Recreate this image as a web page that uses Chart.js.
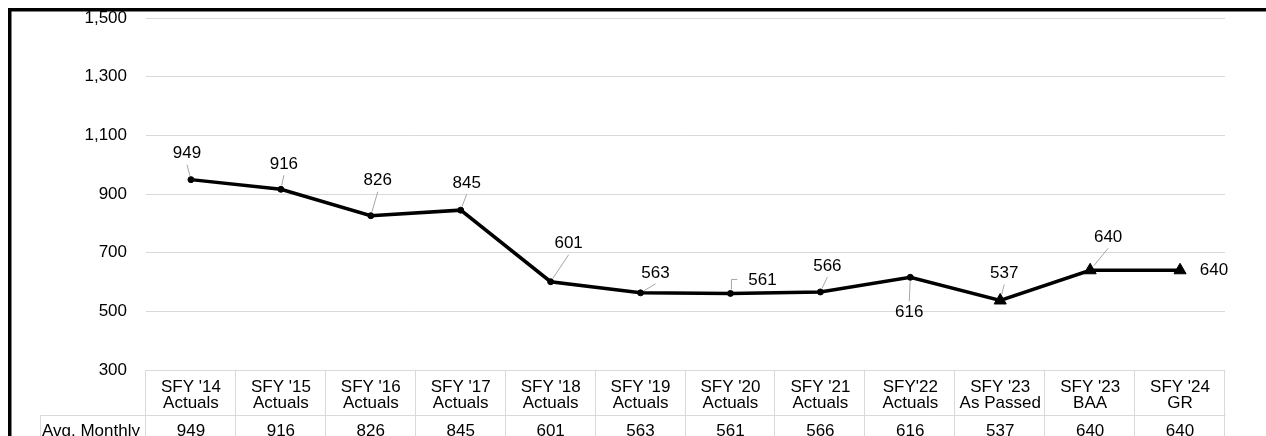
<!DOCTYPE html>
<html>
<head>
<meta charset="utf-8">
<script src="https://cdn.jsdelivr.net/npm/chart.js@4.4.1/dist/chart.umd.min.js"></script>
<style>
  html, body { margin: 0; padding: 0; background: #fff; }
  #wrap { position: relative; width: 1266px; height: 436px; }
</style>
</head>
<body>
<div id="wrap"><canvas id="c" width="1266" height="436"></canvas></div>
<script>
// Fiscal-year categories, one entry per table column (two header lines each)
const categories = [
  ["SFY '14", "Actuals"],
  ["SFY '15", "Actuals"],
  ["SFY '16", "Actuals"],
  ["SFY '17", "Actuals"],
  ["SFY '18", "Actuals"],
  ["SFY '19", "Actuals"],
  ["SFY '20", "Actuals"],
  ["SFY '21", "Actuals"],
  ["SFY'22", "Actuals"],
  ["SFY '23", "As Passed"],
  ["SFY '23", "BAA"],
  ["SFY '24", "GR"]
];
const rowLabel = "Avg. Monthly";
const avgMonthly = [949, 916, 826, 845, 601, 563, 561, 566, 616, 537, 640, 640];
const yTicks = [300, 500, 700, 900, 1100, 1300, 1500];

const FONT = "'Liberation Sans', Arial, sans-serif";
const fmt = v => v.toLocaleString('en-US');
const isActual = i => categories[i][1] === 'Actuals';

// Placement of each value label relative to its point (px), and its leader style
const labelPlacement = [
  { dx: -4, dy: -26, leader: 'line' },
  { dx: 3,  dy: -25, leader: 'line' },
  { dx: 7,  dy: -35, leader: 'line' },
  { dx: 6,  dy: -27, leader: 'line' },
  { dx: 18, dy: -38, leader: 'line' },
  { dx: 15, dy: -20, leader: 'line' },
  { dx: 32, dy: -13, leader: 'elbow' },
  { dx: 7,  dy: -26, leader: 'line' },
  { dx: -1, dy: 35,  leader: 'line' },
  { dx: 4,  dy: -27, leader: 'line' },
  { dx: 18, dy: -33, leader: 'line' },
  { dx: 34, dy: 0,   leader: 'none' }
];

// Frame lines along the top and left edges
const framePlugin = {
  id: 'frame',
  afterDraw(chart) {
    const ctx = chart.ctx;
    ctx.save();
    ctx.fillStyle = '#000';
    ctx.fillRect(8, 8, chart.width - 8, 3.5);
    ctx.fillRect(8, 8, 3.5, chart.height - 8);
    ctx.restore();
  }
};

// Value labels with leader lines
const valueLabelPlugin = {
  id: 'valueLabels',
  afterDatasetsDraw(chart) {
    const ctx = chart.ctx;
    const meta = chart.getDatasetMeta(0);
    ctx.save();
    ctx.font = '17px ' + FONT;
    ctx.textAlign = 'center';
    ctx.textBaseline = 'middle';
    meta.data.forEach((pt, i) => {
      const p = labelPlacement[i];
      const v = chart.data.datasets[0].data[i];
      const text = fmt(v);
      const lx = pt.x + p.dx, ly = pt.y + p.dy;
      const w = ctx.measureText(text).width;
      ctx.strokeStyle = '#a6a6a6';
      ctx.lineWidth = 1;
      if (p.leader === 'line') {
        const ex = lx;
        const ey = p.dy < 0 ? ly + 11 : ly - 11;
        const ddx = ex - pt.x, ddy = ey - pt.y;
        const len = Math.hypot(ddx, ddy);
        const r = isActual(i) ? 4 : 6;
        if (len > r + 2) {
          ctx.beginPath();
          ctx.moveTo(pt.x + ddx / len * r, pt.y + ddy / len * r);
          ctx.lineTo(ex, ey);
          ctx.stroke();
        }
      } else if (p.leader === 'elbow') {
        const ex = lx - w / 2 - 11;
        ctx.beginPath();
        ctx.moveTo(pt.x + 1, pt.y - 4);
        ctx.lineTo(pt.x + 1, ly - 1);
        ctx.lineTo(ex, ly - 1);
        ctx.stroke();
      }
      ctx.fillStyle = '#000';
      ctx.fillText(text, lx, ly);
    });
    ctx.restore();
  }
};

// Data table under the plot: header row of categories and a row of values
const dataTablePlugin = {
  id: 'dataTable',
  afterDraw(chart) {
    const ctx = chart.ctx;
    const area = chart.chartArea;
    const xs = chart.scales.x;
    const n = categories.length;
    const left = Math.round(area.left) - 0.5;
    const right = Math.round(area.right) + 0.5;
    const colW = (area.right - area.left) / n;
    const top = Math.round(area.bottom) + 0.5;
    const headBottom = top + 45;
    const rowBottom = top + 67;
    const labelLeft = 40.5;

    ctx.save();
    ctx.strokeStyle = '#d9d9d9';
    ctx.lineWidth = 1;
    ctx.beginPath();
    ctx.moveTo(left, top); ctx.lineTo(right, top);
    ctx.moveTo(labelLeft, headBottom); ctx.lineTo(right, headBottom);
    ctx.moveTo(labelLeft, rowBottom); ctx.lineTo(right, rowBottom);
    ctx.moveTo(labelLeft, headBottom); ctx.lineTo(labelLeft, rowBottom);
    for (let i = 0; i <= n; i++) {
      const ex = Math.round(area.left + i * colW) - 0.5;
      ctx.moveTo(ex, top); ctx.lineTo(ex, rowBottom);
    }
    ctx.stroke();

    ctx.fillStyle = '#000';
    ctx.font = '17px ' + FONT;
    ctx.textAlign = 'center';
    ctx.textBaseline = 'alphabetic';
    categories.forEach((lines, i) => {
      const cx = xs.getPixelForValue(i);
      ctx.fillText(lines[0], cx, top + 21);
      ctx.fillText(lines[1], cx, top + 37);
      ctx.fillText(fmt(avgMonthly[i]), cx, top + 65);
    });
    ctx.textAlign = 'left';
    ctx.fillText(rowLabel, 42, top + 65);
    ctx.restore();
  }
};

new Chart(document.getElementById('c'), {
  type: 'line',
  data: {
    labels: categories,
    datasets: [{
      label: rowLabel,
      data: avgMonthly,
      borderColor: '#000',
      borderWidth: 3.5,
      backgroundColor: '#000',
      pointBackgroundColor: '#000',
      pointBorderColor: '#000',
      pointBorderWidth: 1,
      pointStyle: ctx => isActual(ctx.dataIndex) ? 'circle' : 'triangle',
      pointRadius: ctx => isActual(ctx.dataIndex) ? 3 : 7,
      tension: 0,
      fill: false
    }]
  },
  options: {
    responsive: false,
    animation: false,
    devicePixelRatio: 1,
    layout: { padding: { left: 0, top: 18, right: 41, bottom: 66 } },
    plugins: {
      legend: { display: false },
      tooltip: { enabled: false }
    },
    scales: {
      x: {
        type: 'category',
        display: false,
        offset: true
      },
      y: {
        min: 300,
        max: 1500,
        afterBuildTicks: scale => { scale.ticks = yTicks.map(v => ({ value: v })); },
        afterFit: scale => {
          scale.width = 146;
          // only half a label height is needed above and below the axis
          scale.paddingTop = 10;
          scale.paddingBottom = 10;
        },
        border: { display: false },
        grid: { color: '#d9d9d9', lineWidth: 1, drawTicks: false },
        ticks: {
          padding: 19,
          color: '#000',
          font: { family: FONT, size: 17 },
          callback: v => fmt(v)
        }
      }
    }
  },
  plugins: [framePlugin, valueLabelPlugin, dataTablePlugin]
});
</script>
</body>
</html>
